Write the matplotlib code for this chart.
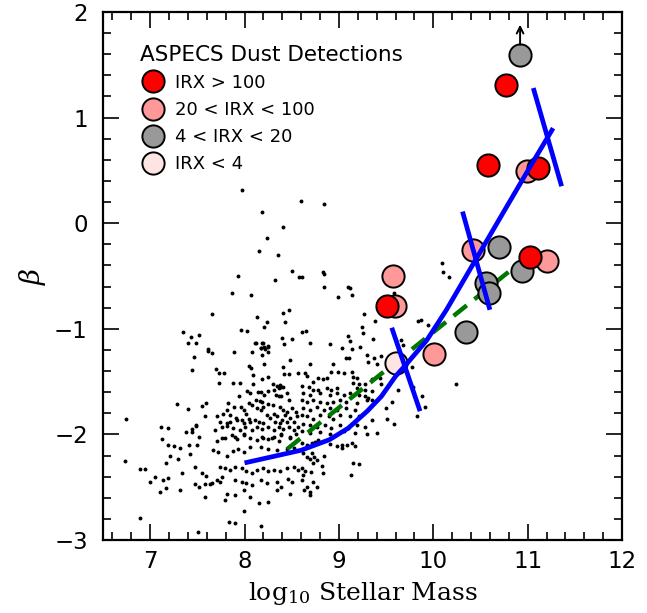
import matplotlib
matplotlib.use("Agg")
import matplotlib.pyplot as plt
from matplotlib.lines import Line2D
from matplotlib.ticker import MultipleLocator

# ---------------- data ----------------
dots_mass = [
 7.97,8.19,8.24,8.15,7.93,7.87,8.07,7.66,8.13,8.24,8.21,7.96,8.03,7.35,7.43,7.52,7.40,7.49,7.61,8.11,8.20,8.17,8.22,8.25,
 8.60,8.84,8.41,8.35,8.50,8.32,8.58,8.61,8.83,8.84,8.84,9.10,9.12,8.99,9.14,8.41,8.47,8.43,8.61,8.65,8.40,8.50,9.10,9.24,
 9.27,9.26,9.38,9.58,9.84,9.87,9.94,9.36,10.09,10.10,10.17,
 9.66,9.68,9.77,9.63,9.79,9.88,10.24,9.83,9.91,
 7.46,7.44,7.61,7.28,7.40,7.55,7.59,7.58,6.74,7.11,7.19,7.44,7.44,7.38,7.49,7.49,7.52,7.13,7.19,7.25,7.41,7.50,7.32,7.21,
 7.42,7.30,7.17,6.73,7.48,6.89,6.95,7.05,7.34,7.55,7.59,7.00,7.14,7.19,7.47,7.52,7.58,7.63,7.17,7.10,7.32,7.58,6.89,7.51,
 8.12,8.19,8.42,8.17,8.21,8.25,7.65,7.89,8.08,8.25,8.18,8.48,8.21,8.05,8.07,8.41,7.70,7.73,7.78,8.09,8.42,8.47,8.19,8.25,
 8.57,7.73,7.88,7.95,8.09,8.30,8.34,8.38,8.03,8.06,8.14,8.17,8.25,8.31,8.36,8.39,8.41,7.94,8.21,8.12,8.16,8.18,8.33,8.36,
 8.39,8.45,8.47,7.82,8.05,8.08,8.25,8.30,7.89,7.96,7.99,7.81,8.38,8.41,8.45,8.50,8.55,8.13,8.17,8.20,7.71,7.77,7.85,7.91,
 8.02,8.05,8.24,8.27,8.31,8.34,8.40,8.43,8.48,8.56,7.74,7.81,7.85,7.92,7.97,7.99,8.06,8.11,8.15,8.20,8.32,8.38,8.45,8.52,
 7.69,7.76,7.81,7.88,7.95,8.01,8.08,8.13,8.18,8.25,8.31,8.36,8.41,8.47,8.52,8.57,7.76,7.90,7.99,8.18,8.29,8.39,8.48,8.55,
 8.69,8.91,9.12,9.22,9.03,9.14,9.30,9.37,9.45,9.40,9.08,9.11,9.31,8.69,8.94,8.92,8.99,9.05,8.64,8.66,9.14,9.15,9.19,8.78,
 8.83,8.87,8.73,9.15,9.21,9.28,9.35,9.44,9.45,8.61,8.68,8.73,8.78,8.87,8.92,8.98,9.19,9.28,9.35,8.62,8.69,8.80,8.91,8.98,
 9.05,9.12,9.21,9.28,9.31,9.35,8.61,8.66,8.73,8.80,8.87,8.94,9.01,9.08,9.19,9.30,8.62,8.69,8.77,8.84,8.91,8.98,9.08,9.17,
 8.61,8.66,8.73,8.80,8.89,8.94,9.01,9.12,9.21,9.50,9.51,9.58,9.56,9.35,8.62,8.69,8.77,8.85,8.92,9.01,9.10,9.19,9.28,8.61,
 8.69,8.80,8.91,9.05,9.17,9.30,9.40,
 7.71,7.79,7.87,7.92,7.99,8.06,8.13,8.20,8.25,8.31,8.36,8.39,8.48,7.67,7.72,7.81,7.88,7.93,7.99,8.06,8.17,8.25,8.34,8.45,
 8.52,7.74,7.79,7.85,7.90,7.97,8.02,8.08,8.13,8.20,8.25,8.31,8.38,8.45,8.52,8.57,7.65,7.71,7.74,7.76,7.90,7.97,8.02,8.08,
 8.17,8.24,8.34,8.39,8.46,8.50,7.81,7.90,7.99,8.06,8.34,8.48,7.79,8.15,8.25,7.99,7.84,7.90,8.17,
 8.61,8.66,8.71,8.75,8.78,8.91,8.98,9.03,9.03,9.09,9.14,9.17,8.62,8.66,8.72,8.74,8.84,8.69,8.77,8.73,8.82,9.15,9.21,9.13,
 8.61,8.64,8.62,8.70,8.83,8.61,8.73,8.66,8.77,8.63,8.69,8.69,
]
dots_beta = [
 0.31,0.11,-0.14,-0.26,-0.50,-0.66,-0.68,-0.86,-0.89,-0.94,-0.98,-1.01,-1.02,-1.03,-1.08,-1.06,-1.13,-1.13,-1.19,-1.13,-1.13,-1.18,-1.19,-1.16,
 0.21,0.18,-0.04,-0.30,-0.45,-0.54,-0.51,-0.51,-0.46,-0.48,-0.60,-0.60,-0.61,-0.70,-0.68,-0.85,-0.82,-0.94,-1.03,-1.02,-1.09,-1.10,-1.07,-0.98,
 -0.86,-1.04,-0.93,-0.66,-0.93,-0.92,-0.96,-1.10,-0.38,-0.46,-0.51,
 -1.11,-1.15,-1.36,-1.58,-1.55,-1.64,-1.52,-1.83,-1.74,
 -1.27,-1.39,-1.21,-1.71,-1.76,-1.73,-1.70,-1.83,-1.85,-1.93,-1.94,-1.95,-1.98,-1.98,-1.91,-1.92,-2.02,-2.04,-2.10,-2.11,-2.10,-2.10,-2.13,-2.20,
 -2.19,-2.23,-2.27,-2.25,-2.31,-2.33,-2.33,-2.40,-2.37,-2.37,-2.39,-2.45,-2.43,-2.41,-2.47,-2.50,-2.47,-2.47,-2.51,-2.55,-2.53,-2.59,-2.79,-2.92,
 -1.13,-1.13,-1.14,-1.18,-1.17,-1.17,-1.23,-1.22,-1.22,-1.22,-1.25,-1.30,-1.33,-1.35,-1.37,-1.36,-1.38,-1.42,-1.42,-1.44,-1.43,-1.43,-1.48,-1.46,
 -1.42,-1.51,-1.51,-1.51,-1.52,-1.52,-1.54,-1.53,-1.59,-1.61,-1.60,-1.60,-1.59,-1.58,-1.56,-1.55,-1.55,-1.64,-1.63,-1.67,-1.68,-1.69,-1.63,-1.64,
 -1.64,-1.61,-1.67,-1.70,-1.70,-1.72,-1.71,-1.72,-1.74,-1.74,-1.77,-1.77,-1.74,-1.77,-1.79,-1.75,-1.79,-1.75,-1.77,-1.74,-1.83,-1.81,-1.82,-1.84,
 -1.81,-1.85,-1.82,-1.84,-1.81,-1.83,-1.86,-1.82,-1.84,-1.83,-1.88,-1.89,-1.88,-1.86,-1.86,-1.89,-1.88,-1.86,-1.88,-1.89,-1.88,-1.89,-1.88,-1.88,
 -1.96,-1.93,-1.92,-1.94,-1.96,-1.93,-1.96,-1.93,-1.95,-1.93,-1.96,-1.93,-1.95,-1.93,-1.96,-1.93,-2.03,-2.02,-2.00,-2.02,-2.03,-2.00,-2.02,-2.00,
 -1.13,-1.14,-1.12,-1.17,-1.18,-1.19,-1.25,-1.28,-1.26,-1.33,-1.28,-1.28,-1.31,-1.33,-1.33,-1.41,-1.41,-1.42,-1.42,-1.45,-1.41,-1.46,-1.47,-1.47,
 -1.48,-1.47,-1.50,-1.51,-1.52,-1.52,-1.48,-1.47,-1.52,-1.54,-1.55,-1.58,-1.58,-1.56,-1.58,-1.56,-1.56,-1.58,-1.59,-1.61,-1.63,-1.61,-1.63,-1.61,
 -1.63,-1.61,-1.63,-1.64,-1.66,-1.67,-1.67,-1.69,-1.67,-1.69,-1.70,-1.69,-1.67,-1.69,-1.70,-1.67,-1.75,-1.77,-1.74,-1.77,-1.75,-1.77,-1.75,-1.77,
 -1.82,-1.83,-1.85,-1.82,-1.83,-1.85,-1.82,-1.83,-1.83,-1.75,-1.85,-1.90,-1.69,-1.86,-1.90,-1.91,-1.93,-1.91,-1.94,-1.91,-1.94,-1.91,-1.93,-1.97,
 -1.99,-1.98,-2.00,-1.97,-1.99,-2.00,-1.99,
 -2.06,-2.03,-2.01,-2.04,-2.01,-2.03,-2.05,-2.03,-2.04,-2.02,-2.06,-2.01,-2.03,-2.15,-2.17,-2.20,-2.16,-2.14,-2.17,-2.12,-2.12,-2.14,-2.15,-2.14,
 -2.13,-2.31,-2.32,-2.34,-2.31,-2.32,-2.35,-2.37,-2.34,-2.32,-2.35,-2.34,-2.35,-2.32,-2.31,-2.34,-2.46,-2.43,-2.45,-2.40,-2.43,-2.45,-2.46,-2.48,
 -2.43,-2.46,-2.45,-2.50,-2.42,-2.45,-2.56,-2.57,-2.53,-2.59,-2.53,-2.56,-2.62,-2.65,-2.64,-2.73,-2.83,-2.84,-2.87,
 -2.08,-2.10,-2.08,-2.07,-2.05,-2.09,-2.11,-2.10,-2.13,-2.10,-2.08,-2.11,-2.18,-2.21,-2.18,-2.21,-2.20,-2.23,-2.24,-2.27,-2.30,-2.27,-2.28,-2.38,
 -2.32,-2.35,-2.38,-2.36,-2.37,-2.43,-2.45,-2.50,-2.50,-2.53,-2.55,-2.57,
]

# ASPECS detections by IRX class
irx_gt100_mass = [10.77, 10.58, 11.11, 11.03, 9.51]
irx_gt100_beta = [1.31, 0.55, 0.52, -0.32, -0.78]
irx_20_100_mass = [10.99, 10.42, 11.20, 9.57, 9.59, 10.01]
irx_20_100_beta = [0.49, -0.25, -0.36, -0.50, -0.78, -1.24]
irx_4_20_mass = [10.92, 10.70, 10.94, 10.56, 10.59, 10.35]
irx_4_20_beta = [1.59, -0.23, -0.45, -0.57, -0.66, -1.03]
irx_lt4_mass = [9.60]
irx_lt4_beta = [-1.32]

# lower-limit arrow on the top grey point
arrow_mass = 10.92
arrow_beta_from = 1.69
arrow_beta_to = 1.88

# blue relation and its crossing bars
rel_mass = [8.00, 8.30, 8.60, 8.90, 9.10, 9.30, 9.45, 9.60, 9.72, 9.93, 10.14, 10.44, 10.80, 11.05, 11.27]
rel_beta = [-2.27, -2.21, -2.15, -2.05, -1.94, -1.78, -1.64, -1.45, -1.33, -1.11, -0.82, -0.36, 0.19, 0.57, 0.90]
bar_mass = [[9.56, 9.86], [10.31, 10.60], [11.06, 11.36]]
bar_beta = [[-0.99, -1.78], [0.11, -0.82], [1.28, 0.35]]

# green dashed fit
fit_mass = [8.45, 10.80]
fit_beta = [-2.14, -0.46]

xticks = [7, 8, 9, 10, 11, 12]
yticks = [-3, -2, -1, 0, 1, 2]

# ---------------- plot ----------------
plt.rcParams['mathtext.fontset'] = 'dejavuserif'
fig = plt.figure(figsize=(6.47, 6.13), dpi=100)
ax = fig.add_axes([103/647, 73/613, 519/647, 528/613])

ax.plot(dots_mass, dots_beta, 'o', color='black', markersize=2.8, markeredgewidth=0, zorder=2)
ax.plot(fit_mass, fit_beta, '--', color='#007700', lw=3.2, dashes=(3.8, 2.2), zorder=3)

circ = dict(marker='o', linestyle='none', markersize=16, markeredgecolor='black',
            markeredgewidth=1.4, zorder=4)
ax.plot(irx_4_20_mass, irx_4_20_beta, markerfacecolor='#999999', **circ)
ax.plot(irx_lt4_mass, irx_lt4_beta, markerfacecolor='#FFE4E4', **circ)
ax.plot(irx_20_100_mass, irx_20_100_beta, markerfacecolor='#FF9999', **circ)
ax.plot(irx_gt100_mass, irx_gt100_beta, markerfacecolor='#FF0000', **circ)

ax.annotate('', xy=(arrow_mass, arrow_beta_to), xytext=(arrow_mass, arrow_beta_from),
            arrowprops=dict(arrowstyle='->', color='black', lw=1.4, mutation_scale=12,
                            shrinkA=0, shrinkB=0), zorder=5)

ax.plot(rel_mass, rel_beta, color='#0000FF', lw=3.4, zorder=5, solid_capstyle='butt')
for bm, bb in zip(bar_mass, bar_beta):
    ax.plot(bm, bb, color='#0000FF', lw=3.4, zorder=5, solid_capstyle='butt')

ax.set_xlim(6.5, 12)
ax.set_ylim(-3, 2)
ax.set_xticks(xticks)
ax.set_yticks(yticks)
ax.set_yticklabels(['\u2212' + str(-t) if t < 0 else str(t) for t in yticks])
ax.xaxis.set_minor_locator(MultipleLocator(0.2))
ax.yaxis.set_minor_locator(MultipleLocator(0.2))
ax.tick_params(which='both', direction='in', top=True, right=True, width=1.2, colors='black')
ax.tick_params(which='major', length=11.5, labelsize=16.5)
ax.tick_params(which='minor', length=5.5)
ax.tick_params(axis='x', which='major', pad=7)
ax.tick_params(axis='y', which='major', pad=11)
for s in ax.spines.values():
    s.set_linewidth(1.6)

ax.set_xlabel('log$_{10}$ Stellar Mass', family='DejaVu Serif', fontsize=18, labelpad=5)
ax.set_ylabel(r'$\beta$', fontsize=20, labelpad=4)

handles = [
    Line2D([], [], marker='o', ls='none', markersize=16, markerfacecolor=c,
           markeredgecolor='black', markeredgewidth=1.4)
    for c in ['#FF0000', '#FF9999', '#999999', '#FFE4E4']
]
labels = ['IRX > 100', '20 < IRX < 100', '4 < IRX < 20', 'IRX < 4']
leg = ax.legend(handles, labels, title='ASPECS Dust Detections', loc='upper left',
                bbox_to_anchor=(0.053, 0.955), frameon=False, fontsize=13,
                title_fontsize=15.5, labelspacing=0.5, handletextpad=0.45,
                handlelength=1.5, borderpad=0, alignment='left')

fig.savefig('out.png', dpi=100)
